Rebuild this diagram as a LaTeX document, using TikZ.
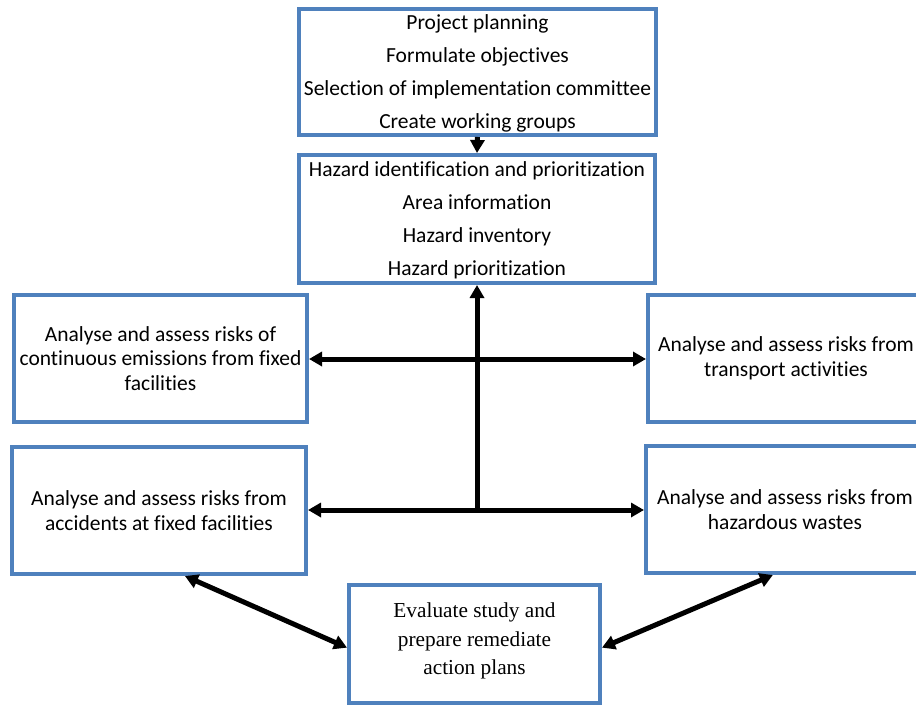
\documentclass[tikz,border=0pt]{standalone}
\usepackage{fontspec}
\setmainfont[Ligatures=NoCommon]{Carlito}
\newfontfamily\timesfont{Liberation Serif}
\usetikzlibrary{arrows.meta,calc}
\definecolor{boxblue}{RGB}{79,129,189}
\begin{document}
\begin{tikzpicture}[x=1pt,y=-1pt,
  box/.style={draw=boxblue, line width=4pt, fill=white, inner sep=0pt, align=center},
  listtext/.style={font=\fontsize{21.5}{33}\selectfont},
  plaintext/.style={font=\fontsize{21.5}{24.5}\selectfont},
  seriftext/.style={font=\timesfont\fontsize{21.3}{28.5}\selectfont, align=center, inner sep=0pt},
  link/.style={line width=5pt, -{Triangle[length=13pt,width=14pt]}},
  both/.style={line width=5pt, {Triangle[length=13pt,width=14pt]}-{Triangle[length=13pt,width=14pt]}}]

\useasboundingbox (0,0) rectangle (916,706);
\clip (0,0) rectangle (916,706);
\fill[white] (0,0) rectangle (916,706);

% process boxes
\node[box, listtext, minimum width=357pt, minimum height=126pt, text depth=-2pt] (plan) at (477.5,72)
  {Project planning\\Formulate objectives\\Selection of implementation committee\\Create working groups};
\node[box, listtext, minimum width=356pt, minimum height=128pt, text depth=-4pt] (hazard) at (477,219)
  {Hazard identification and prioritization\\Area information\\Hazard inventory\\Hazard prioritization};

\node[box, plaintext, minimum width=293pt, minimum height=127pt] (emis) at (160.5,358.5)
  {Analyse and assess risks of\\continuous emissions from fixed\\facilities};
\node[box, plaintext, minimum width=294pt, minimum height=127pt] (accid) at (159,510.5)
  {Analyse and assess risks from\\accidents at fixed facilities};
\node[box, plaintext, minimum width=276pt, minimum height=127pt] (trans) at (786,358.5)
  {Analyse and assess risks from\\transport activities};
\node[box, plaintext, minimum width=278pt, minimum height=127pt] (waste) at (785,509.5)
  {Analyse and assess risks from\\hazardous wastes};

\node[box, minimum width=251pt, minimum height=118pt] (eval) at (474.5,644) {};
\node[seriftext] (evaltext) at (474.5,641)
  {Evaluate study and\\prepare remediate\\action plans};

% connectors
\coordinate (hub) at (477,510);
\coordinate (cross) at (477,359);

\draw[link] (plan.south) -- (hazard.north);
\draw[link] (hub) -- (hazard.south);
\draw[both] (emis.east |- cross) -- (trans.west |- cross);
\draw[both] (accid.east |- hub) -- (waste.west |- hub);

\draw[both] ($(accid.south west)!0.587!(accid.south east)$)
  -- ($(eval.north west)!0.53!(eval.south west)$);
\draw[both] ($(waste.south west)!0.457!(waste.south east)$)
  -- ($(eval.north east)!0.53!(eval.south east)$);
\end{tikzpicture}
\end{document}
